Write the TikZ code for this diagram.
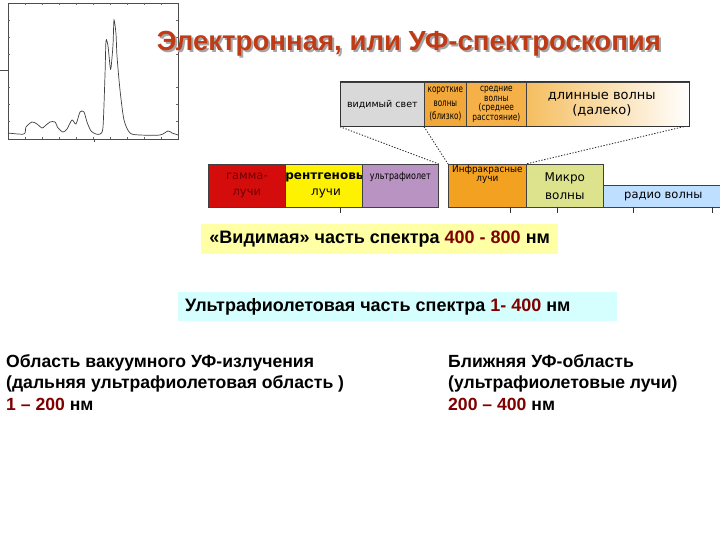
\documentclass[tikz,border=0pt]{standalone}
\usepackage{fontspec}
\setmainfont{Liberation Sans}
\newfontfamily\dv{DejaVu Sans}
\usetikzlibrary{calc}
\definecolor{titlered}{RGB}{192,58,22}
\definecolor{numred}{RGB}{128,0,0}
\definecolor{visgray}{RGB}{217,217,217}
\definecolor{shortor}{RGB}{242,168,56}
\definecolor{midor}{RGB}{245,176,72}
\definecolor{longor}{RGB}{245,190,95}
\definecolor{gamred}{RGB}{212,12,12}
\definecolor{gamtxt}{RGB}{110,0,0}
\definecolor{xyel}{RGB}{255,242,0}
\definecolor{uvpur}{RGB}{185,147,193}
\definecolor{iror}{RGB}{242,161,33}
\definecolor{micgr}{RGB}{220,227,140}
\definecolor{radbl}{RGB}{190,223,255}
\definecolor{visyel}{RGB}{255,255,166}
\definecolor{uvcyan}{RGB}{213,255,255}
\newcommand{\shadowtxt}[1]{\makebox[0pt][l]{\hspace{2pt}\raisebox{-2pt}{\textcolor{black!35}{#1}}}#1}
\tikzset{
  seg/.style={draw=black!75, line width=0.7, anchor=north west, inner sep=0pt, minimum height=43, align=center},
  topseg/.style={draw=black!75, line width=0.7, anchor=north west, inner sep=0pt, minimum height=44, align=center},
  dotln/.style={dash pattern=on 1.3pt off 1.6pt, line width=0.9, black!80},
  tick/.style={line width=0.7, black!80},
  bigtxt/.style={font=\bfseries\fontsize{18}{21}\selectfont, inner sep=0pt},
  bodytxt/.style={font=\bfseries\fontsize{17.6}{21.5}\selectfont, align=left, anchor=north west, inner sep=0pt},
}
\begin{document}
\begin{tikzpicture}[x=1pt,y=-1pt]
\useasboundingbox (0,0) rectangle (720,540);
\fill[white] (0,0) rectangle (720,540);
% chart
\draw[black!70, line width=0.6] (8,3) rectangle (178,139);
\draw[black!70, line width=0.6] (0,70) -- (8,70);
\foreach \xx in {25,42,59,76,93,110,127,144,161} {
  \draw[black!60, line width=0.4] (\xx,139) -- (\xx,137);
  \draw[black!60, line width=0.4] (\xx,3) -- (\xx,5);
}
\foreach \yy in {20,37,54,87,104,121} {
  \draw[black!60, line width=0.4] (8,\yy) -- (10,\yy);
  \draw[black!60, line width=0.4] (178,\yy) -- (176,\yy);
}
\draw[black!70, line width=0.6] (94,139) -- (94,142);
\draw[black!75, line width=0.7] plot[smooth, tension=0.45] coordinates {
 (8,133) (24,134) (26,127) (32,122) (37,124) (42,128) (45,126) (50,122) (55,122) (58,128) (63,132)
 (67,129) (72,120) (76,124) (80,112) (84,112) (87,122) (91,131) (96,134) (100,134) (103,127)
 (105,75) (106,41) (108,46) (110,66) (111,68) (113,45) (114,20) (116,34) (117,56) (120,90) (124,120)
 (130,133) (140,135) (160,135) (168,131) (172,133) (178,135)};
% title
\node[font=\bfseries\fontsize{27.6}{30}\selectfont, text=titlered, inner sep=0pt] (title) at (409,45) {\shadowtxt{Электронная, или УФ-спектроскопия}};
% top bar
\node[topseg, fill=visgray, minimum width=84, font=\dv\fontsize{9.5}{11}\selectfont] (vis) at (340,82) {видимый свет};
\node[topseg, fill=shortor, minimum width=42, font=\dv\fontsize{10}{13.5}\selectfont] (short) at (424,82) {\scalebox{0.72}[1]{короткие}\\\scalebox{0.72}[1]{волны}\\\scalebox{0.72}[1]{(близко)}};
\node[topseg, fill=midor, minimum width=60, font=\dv\fontsize{9.5}{9.5}\selectfont] (mid) at (466,82) {\scalebox{0.78}[1]{средние}\\\scalebox{0.78}[1]{волны}\\\scalebox{0.78}[1]{(среднее}\\\scalebox{0.78}[1]{расстояние)}};
\node[topseg, left color=longor, right color=white, minimum width=163, font=\dv\fontsize{13}{15}\selectfont] (long) at (526,82) {};
\node[font=\dv\fontsize{13}{15}\selectfont, align=center, inner sep=0pt] (longtxt) at ($(long.center)+(-6,0)$) {длинные волны\\(далеко)};
\draw[black!80, line width=1] (vis.north west) rectangle (long.south east);
% spectrum bar
\node[seg, fill=gamred, text=gamtxt, minimum width=77, font=\dv\fontsize{11.5}{16}\selectfont] (gam) at (208,164) {гамма-\\лучи};
\node[seg, fill=xyel, minimum width=77, font=\dv\fontsize{12}{16}\selectfont] (xray) at (285,164) {\textbf{рентгеновы}\\лучи};
\node[seg, fill=uvpur, minimum width=76] (uv) at (362,164) {};
\node[font=\dv\fontsize{10}{12}\selectfont, inner sep=0pt] (uvtxt) at ($(uv.north)+(0,13)$) {\scalebox{0.8}[1]{ультрафиолет}};
\node[seg, fill=iror, minimum width=78] (ir) at (448,164) {};
\node[font=\dv\fontsize{9.5}{9}\selectfont, inner sep=0pt, align=center] (irtxt) at ($(ir.north)+(0,11)$) {\scalebox{0.93}[1]{Инфракрасные}\\\scalebox{0.93}[1]{лучи}};
\node[seg, fill=micgr, minimum width=77, font=\dv\fontsize{12}{18}\selectfont] (mic) at (526,164) {Микро\\волны};
\node[seg, fill=radbl, minimum width=120, minimum height=22, font=\dv\fontsize{11.5}{14}\selectfont] (rad) at (603,185) {радио волны};
% dotted connectors
\draw[dotln] (vis.south west) -- (uv.north east);
\draw[dotln] (short.south west) -- (ir.north west);
\draw[dotln] ($(long.south east)+(-6,0)$) -- (mic.north west);
% ticks
\foreach \xx in {340,510,557,633,712} \draw[tick] (\xx,207) -- (\xx,213);
% visible box
\node[fill=visyel, anchor=north west, minimum width=357, minimum height=30, inner sep=0pt] (visbox) at (201,224) {};
\node[bigtxt] (vistxt) at (visbox.center) {«Видимая» часть спектра \textcolor{numred}{400 - 800} нм};
% uv box
\node[fill=uvcyan, anchor=north west, minimum width=439, minimum height=29, inner sep=0pt] (uvbox) at (178,292) {};
\node[bigtxt, anchor=west] (uvtxtb) at ($(uvbox.west)+(7,0)$) {Ультрафиолетовая часть спектра \textcolor{numred}{1- 400} нм};
% bottom texts
\node[bodytxt] (left) at (6,354) {Область вакуумного УФ-излучения\\(дальняя ультрафиолетовая область )\\ \textcolor{numred}{1 – 200} нм};
\node[bodytxt] (right) at (448,354) {Ближняя УФ-область\\(ультрафиолетовые лучи)\\\textcolor{numred}{200 – 400} нм};
\end{tikzpicture}
\end{document}
